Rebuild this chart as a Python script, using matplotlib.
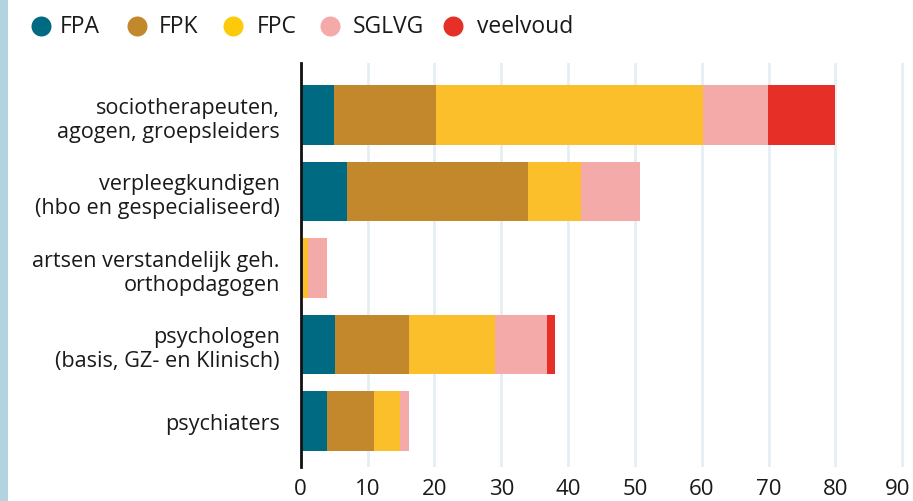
import matplotlib
matplotlib.use("Agg")
import matplotlib.pyplot as plt
from matplotlib.patches import Rectangle
from matplotlib.lines import Line2D
from matplotlib.transforms import ScaledTranslation
import numpy as np

plt.rcParams['font.family'] = ['Open Sans', 'DejaVu Sans']

categories = [
    "sociotherapeuten,\nagogen, groepsleiders",
    "verpleegkundigen\n(hbo en gespecialiseerd)",
    "artsen verstandelijk geh.\northopdagogen",
    "psychologen\n(basis, GZ- en Klinisch)",
    "psychiaters",
]
series = ["FPA", "FPK", "FPC", "SGLVG", "veelvoud"]
fpa = [5.0, 6.9, 0.0, 5.2, 3.9]
fpk = [15.2, 27.1, 0.0, 11.0, 7.1]
fpc = [40.0, 7.9, 1.1, 12.8, 3.9]
sglvg = [9.7, 8.9, 2.9, 7.8, 1.3]
veelvoud = [10.0, 0.0, 0.0, 1.2, 0.0]
xticks = [0, 10, 20, 30, 40, 50, 60, 70, 80, 90]

colors = ["#006a82", "#c4882c", "#fbbf2c", "#f4aaa8", "#e63027"]
# the legend dots use a slightly brighter yellow than the bars
legend_colors = ["#006a82", "#c4882c", "#fdca0a", "#f4aaa8", "#e63027"]

W, H = 913, 502
fig = plt.figure(figsize=(W / 100, H / 100), dpi=100)
ax = fig.add_axes([0.3294, 0.0677, 0.6706, 0.8048])

# light blue strip at the left edge
fig.patches.append(Rectangle((0, 0), 7.5 / W, 1, transform=fig.transFigure,
                             facecolor="#b3d4df", edgecolor="none"))

y = np.arange(len(categories))
left = np.zeros(len(categories))
for name, vals, c in zip(series, [fpa, fpk, fpc, sglvg, veelvoud], colors):
    vals = np.array(vals)
    ax.barh(y, vals, left=left, height=0.78, color=c, label=name, zorder=3)
    left += vals

ax.set_xlim(0, 91.6)
ax.set_ylim(4.6, -0.68)
ax.set_xticks(xticks)
ax.set_xticklabels([str(t) for t in xticks])
ax.set_yticks(y)
ax.set_yticklabels(categories, ha="right", multialignment="right")
ax.tick_params(axis="y", length=0, pad=15, labelsize=15.6, colors="#1a1a1a")
ax.tick_params(axis="x", length=0, pad=8, labelsize=16, colors="#1a1a1a")
for lab in ax.get_yticklabels():
    lab.set_linespacing(1.2)

# nudge the last x label ("90") a little left so it stays inside the image
last = ax.get_xticklabels()[-1]
last.set_transform(last.get_transform() + ScaledTranslation(-5 / 100, 0, fig.dpi_scale_trans))

ax.grid(axis="x", color="#e5eff3", linewidth=2, zorder=0)
for s in ["top", "right", "bottom"]:
    ax.spines[s].set_visible(False)
ax.spines["left"].set_linewidth(2)
ax.spines["left"].set_color("#111111")
ax.spines["left"].set_zorder(4)

# legend drawn by hand: dot + label
dot_x = [40.7, 136.7, 233, 330, 453]
txt_x = [60, 159, 257, 353, 477]
leg_y = 1 - 27 / H
for name, c, dx, tx in zip(series, legend_colors, dot_x, txt_x):
    fig.add_artist(Line2D([dx / W], [leg_y], marker="o", markersize=14.4,
                          markerfacecolor=c, markeredgecolor="none",
                          linestyle="none", transform=fig.transFigure))
    fig.text(tx / W, leg_y, name, fontsize=16.5, color="#1a1a1a",
             ha="left", va="center")

fig.savefig("out.png", dpi=100)
